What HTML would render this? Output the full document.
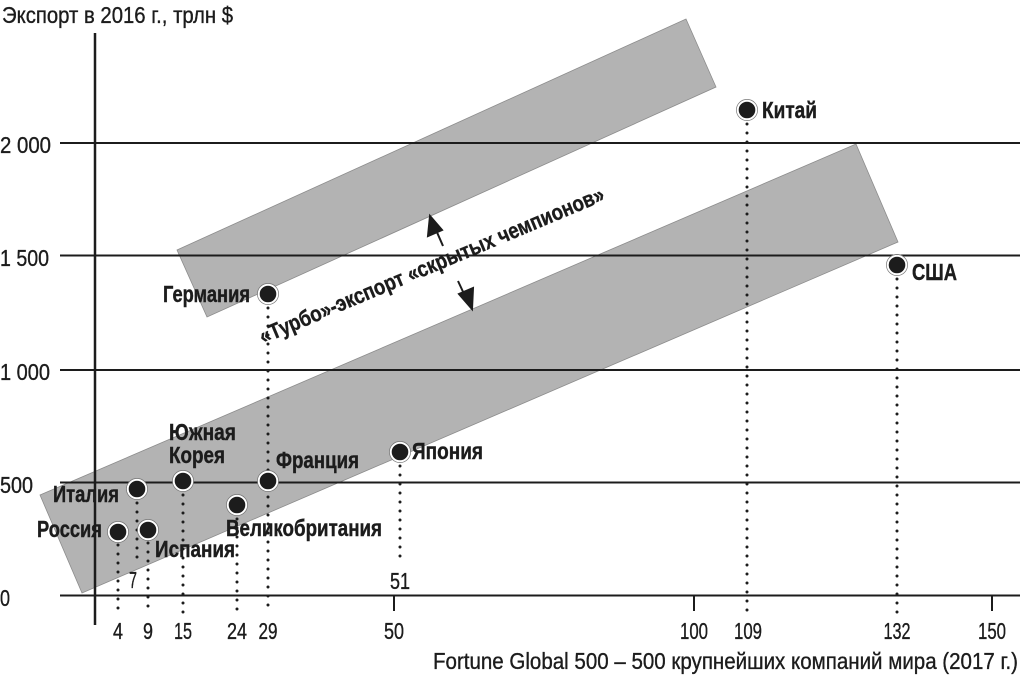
<!DOCTYPE html>
<html><head><meta charset="utf-8">
<style>
html,body{margin:0;padding:0;background:#fff;}
svg{display:block;}
text{font-family:"Liberation Sans Narrow","Liberation Sans","DejaVu Sans",sans-serif;fill:#1c1c1c;}
.b{font-weight:bold;font-size:23px;stroke:#1c1c1c;stroke-width:0.4px;}
.r{font-size:23px;stroke:#1c1c1c;stroke-width:0.35px;}
</style></head><body>
<svg width="1020" height="677" viewBox="0 0 1020 677" xmlns="http://www.w3.org/2000/svg">
<!-- bands -->
<polygon points="177,250 686,19 716,87 207,317" fill="#b3b3b3" stroke="#8c8c8c" stroke-width="0.8"/>
<polygon points="40,495 856,144 898,242 82,593" fill="#b3b3b3" stroke="#8c8c8c" stroke-width="0.8"/>

<!-- gridlines -->
<g stroke="#1c1c1c" stroke-width="2">
<line x1="60" y1="143" x2="1020" y2="143"/>
<line x1="60" y1="255.5" x2="1020" y2="255.5"/>
<line x1="60" y1="370" x2="1020" y2="370"/>
<line x1="60" y1="482.5" x2="1020" y2="482.5"/>
<line x1="60" y1="595.5" x2="1020" y2="595.5"/>
</g>
<line x1="95" y1="33" x2="95" y2="625" stroke="#1c1c1c" stroke-width="2.5"/>
<!-- x ticks -->
<g stroke="#1c1c1c" stroke-width="2">
<line x1="394" y1="596" x2="394" y2="611"/>
<line x1="694" y1="596" x2="694" y2="611"/>
<line x1="992" y1="596" x2="992" y2="611"/>
</g>

<!-- dotted lines -->
<g stroke="#1c1c1c" stroke-width="3" stroke-linecap="round" stroke-dasharray="0 9" fill="none">
<line x1="118" y1="545" x2="118" y2="614"/>
<line x1="137" y1="503" x2="137" y2="563"/>
<line x1="148" y1="543" x2="148" y2="614"/>
<line x1="183" y1="495" x2="183" y2="614"/>
<line x1="237" y1="519" x2="237" y2="614"/>
<line x1="268" y1="308" x2="268" y2="614"/>
<line x1="400" y1="466" x2="400" y2="562"/>
<line x1="747" y1="124" x2="747" y2="614"/>
<line x1="897" y1="279" x2="897" y2="614"/>
</g>

<!-- arrows -->
<g stroke="#1c1c1c" stroke-width="2" fill="#1c1c1c">
<line x1="443" y1="246" x2="436" y2="230"/>
<polygon points="430,216 428,236 442,230"/>
<line x1="458" y1="281" x2="465" y2="296"/>
<polygon points="472,309 459,294 473,288"/>
</g>

<!-- dots -->
<g fill="#1c1c1c" stroke="#fff" stroke-width="2">
<circle cx="118" cy="532" r="9.3"/>
<circle cx="137" cy="489" r="9.3"/>
<circle cx="148" cy="530" r="9.3"/>
<circle cx="183" cy="481" r="9.3"/>
<circle cx="237" cy="505" r="9.3"/>
<circle cx="268" cy="481" r="9.3"/>
<circle cx="268" cy="294" r="9.3"/>
<circle cx="400" cy="452" r="9.3"/>
<circle cx="747" cy="110" r="9.3"/>
<circle cx="897" cy="265" r="9.3"/>
</g>
<g fill="none" stroke="#777" stroke-width="0.7">
<circle cx="118" cy="532" r="10.6"/>
<circle cx="137" cy="489" r="10.6"/>
<circle cx="148" cy="530" r="10.6"/>
<circle cx="183" cy="481" r="10.6"/>
<circle cx="237" cy="505" r="10.6"/>
<circle cx="268" cy="481" r="10.6"/>
<circle cx="268" cy="294" r="10.6"/>
<circle cx="400" cy="452" r="10.6"/>
<circle cx="747" cy="110" r="10.6"/>
<circle cx="897" cy="265" r="10.6"/>
</g>

<!-- title -->
<text class="r" x="2" y="23" textLength="231" lengthAdjust="spacingAndGlyphs">Экспорт в 2016 г., трлн $</text>
<!-- y labels -->
<text class="r" x="0" y="153" textLength="51" lengthAdjust="spacingAndGlyphs">2 000</text>
<text class="r" x="0" y="266" textLength="49" lengthAdjust="spacingAndGlyphs">1 500</text>
<text class="r" x="0" y="380" textLength="50" lengthAdjust="spacingAndGlyphs">1 000</text>
<text class="r" x="0" y="493" textLength="33" lengthAdjust="spacingAndGlyphs">500</text>
<text class="r" x="0" y="606" textLength="10" lengthAdjust="spacingAndGlyphs">0</text>

<!-- x labels -->
<text class="r" x="118" y="639" text-anchor="middle" textLength="10" lengthAdjust="spacingAndGlyphs">4</text>
<text class="r" x="148" y="639" text-anchor="middle" textLength="10" lengthAdjust="spacingAndGlyphs">9</text>
<text class="r" x="183" y="639" text-anchor="middle" textLength="18" lengthAdjust="spacingAndGlyphs">15</text>
<text class="r" x="237" y="639" text-anchor="middle" textLength="20" lengthAdjust="spacingAndGlyphs">24</text>
<text class="r" x="268" y="639" text-anchor="middle" textLength="19" lengthAdjust="spacingAndGlyphs">29</text>
<text class="r" x="394" y="639" text-anchor="middle" textLength="20" lengthAdjust="spacingAndGlyphs">50</text>
<text class="r" x="694" y="639" text-anchor="middle" textLength="28" lengthAdjust="spacingAndGlyphs">100</text>
<text class="r" x="748" y="639" text-anchor="middle" textLength="28" lengthAdjust="spacingAndGlyphs">109</text>
<text class="r" x="897" y="639" text-anchor="middle" textLength="27" lengthAdjust="spacingAndGlyphs">132</text>
<text class="r" x="992" y="639" text-anchor="middle" textLength="28" lengthAdjust="spacingAndGlyphs">150</text>
<text class="r" x="133" y="588" text-anchor="middle" textLength="8" lengthAdjust="spacingAndGlyphs">7</text>
<text class="r" x="400" y="589" text-anchor="middle" textLength="20" lengthAdjust="spacingAndGlyphs">51</text>
<text class="r" x="433" y="669" textLength="585" lengthAdjust="spacingAndGlyphs">Fortune Global 500 – 500 крупнейших компаний мира (2017 г.)</text>

<!-- country labels -->
<text class="b" x="762" y="118" textLength="55" lengthAdjust="spacingAndGlyphs">Китай</text>
<text class="b" x="912" y="280" textLength="45" lengthAdjust="spacingAndGlyphs">США</text>
<text class="b" x="163" y="302" textLength="87" lengthAdjust="spacingAndGlyphs">Германия</text>
<text class="b" x="412" y="459" textLength="71" lengthAdjust="spacingAndGlyphs">Япония</text>
<text class="b" x="276" y="468" textLength="83" lengthAdjust="spacingAndGlyphs">Франция</text>
<text class="b" x="226" y="536" textLength="156" lengthAdjust="spacingAndGlyphs">Великобритания</text>
<text class="b" x="169" y="440" textLength="67" lengthAdjust="spacingAndGlyphs">Южная</text>
<text class="b" x="169" y="463" textLength="56" lengthAdjust="spacingAndGlyphs">Корея</text>
<text class="b" x="53" y="502" textLength="66" lengthAdjust="spacingAndGlyphs">Италия</text>
<text class="b" x="37" y="537" textLength="65" lengthAdjust="spacingAndGlyphs">Россия</text>
<text class="b" x="155" y="557" textLength="80" lengthAdjust="spacingAndGlyphs">Испания</text>

<!-- rotated annotation -->
<text class="b" x="263" y="344" transform="rotate(-22.8 263 344)" style="font-size:22px" textLength="372" lengthAdjust="spacingAndGlyphs">«Турбо»-экспорт «скрытых чемпионов»</text>
</svg>
</body></html>
